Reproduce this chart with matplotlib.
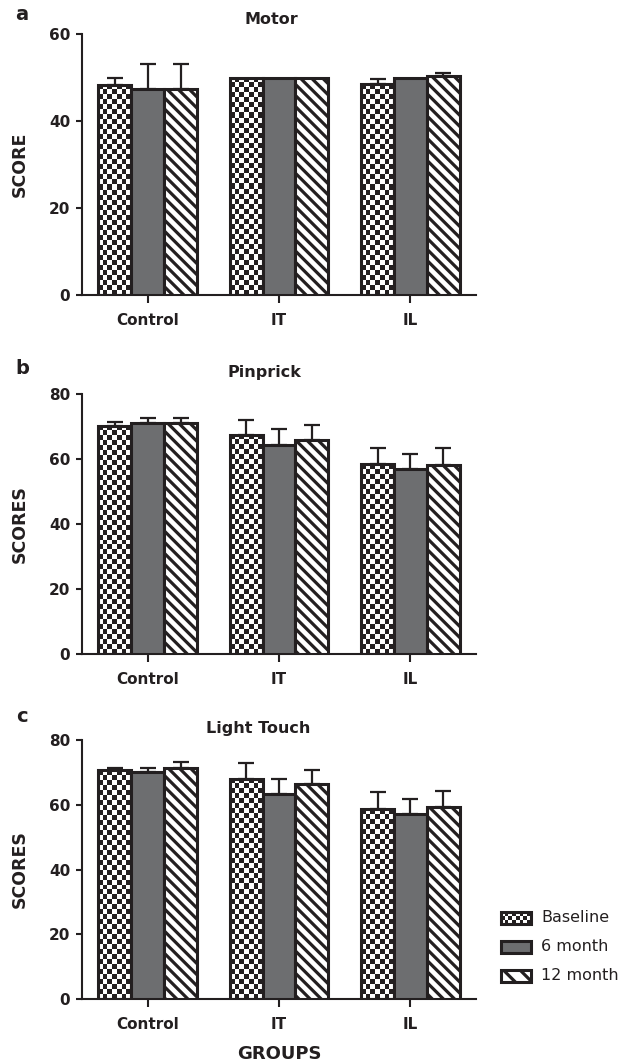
import numpy as np
import matplotlib
matplotlib.use('Agg')
import matplotlib.pyplot as plt
from matplotlib.colors import ListedColormap
from matplotlib.patches import Rectangle

groups = ['Control', 'IT', 'IL']
series = ['Baseline', '6 month', '12 month']

# Motor
motor_baseline = [48.3, 50.0, 48.5]
motor_baseline_err = [1.6, 0.0, 1.1]
motor_6m = [47.4, 50.0, 50.0]
motor_6m_err = [5.7, 0.0, 0.0]
motor_12m = [47.4, 50.0, 50.3]
motor_12m_err = [5.7, 0.0, 0.7]

# Pinprick
pin_baseline = [70.2, 67.4, 58.4]
pin_baseline_err = [1.1, 4.6, 5.0]
pin_6m = [71.0, 64.2, 56.8]
pin_6m_err = [1.7, 4.9, 4.7]
pin_12m = [71.0, 66.0, 58.1]
pin_12m_err = [1.7, 4.4, 5.2]

# Light touch
lt_baseline = [70.7, 68.1, 58.6]
lt_baseline_err = [0.8, 4.8, 5.3]
lt_6m = [70.1, 63.3, 57.2]
lt_6m_err = [1.4, 4.5, 4.7]
lt_12m = [71.5, 66.4, 59.2]
lt_12m_err = [1.6, 4.3, 5.0]

DARK = '#231f20'
GRAY = '#6d6e70'
HATCH = '\\\\\\'
W, H = 627, 1062

plt.rcParams['font.family'] = ['DejaVu Sans']
plt.rcParams['hatch.linewidth'] = 2.3
plt.rcParams['hatch.color'] = DARK

fig = plt.figure(figsize=(W / 100, H / 100), dpi=100)
checker_cmap = ListedColormap(['white', DARK])


def px_axes(x0, y0, x1, y1):
    return fig.add_axes([x0 / W, 1 - y1 / H, (x1 - x0) / W, (y1 - y0) / H])


def checker(ax, x0, x1, y0, y1, ppx, ppy, cell=5.0):
    nx = max(2, int(round((x1 - x0) * ppx / cell)))
    ny = max(2, int(round(abs(y1 - y0) * ppy / cell)))
    img = np.add.outer(np.arange(ny), np.arange(nx)) % 2
    ax.imshow(img, cmap=checker_cmap, extent=(x0, x1, y0, y1), origin='lower',
              interpolation='nearest', aspect='auto', zorder=2)


panels = [
    ('a', 'Motor', 'SCORE', 60, (34, 295), (271, 20), (22, 14),
     [(motor_baseline, motor_baseline_err), (motor_6m, motor_6m_err), (motor_12m, motor_12m_err)]),
    ('b', 'Pinprick', 'SCORES', 80, (394, 654), (264, 372), (22, 369),
     [(pin_baseline, pin_baseline_err), (pin_6m, pin_6m_err), (pin_12m, pin_12m_err)]),
    ('c', 'Light Touch', 'SCORES', 80, (740, 999), (258, 728), (22, 717),
     [(lt_baseline, lt_baseline_err), (lt_6m, lt_6m_err), (lt_12m, lt_12m_err)]),
]

x = np.arange(len(groups))
bw = 0.25
ax_l, ax_r = 82, 476

for letter, title, ylab, ymax, (top, bot), tpos, lpos, data in panels:
    ax = px_axes(ax_l, top, ax_r, bot)
    ppx = (ax_r - ax_l) / 3.0
    ppy = (bot - top) / ymax
    for i, (vals, errs) in enumerate(data):
        vals = np.array(vals)
        errs = np.array(errs)
        xs = x + (i - 1) * bw
        if i == 0:
            ax.bar(xs, vals, bw, facecolor='none', edgecolor=DARK, linewidth=2.2, zorder=3)
            for xi, v in zip(xs, vals):
                checker(ax, xi - bw / 2, xi + bw / 2, 0, v, ppx, ppy)
        elif i == 1:
            ax.bar(xs, vals, bw, facecolor=GRAY, edgecolor=DARK, linewidth=2.2, zorder=3)
        else:
            ax.bar(xs, vals, bw, facecolor='white', edgecolor=DARK, linewidth=2.2,
                   hatch=HATCH, zorder=3)
        m = errs > 0
        ax.errorbar(xs[m], vals[m], yerr=[np.zeros(m.sum()), errs[m]], fmt='none',
                    ecolor=DARK, elinewidth=1.6, capsize=6, capthick=1.6, zorder=1)
    ax.set_xlim(-0.5, 2.5)
    ax.set_ylim(0, ymax)
    ax.set_yticks(np.arange(0, ymax + 1, 20))
    ax.set_xticks(x)
    ax.set_xticklabels(groups)
    for s in ['top', 'right']:
        ax.spines[s].set_visible(False)
    for s in ['left', 'bottom']:
        ax.spines[s].set_linewidth(1.5)
        ax.spines[s].set_color(DARK)
    ax.tick_params(axis='y', length=4.5, width=1.5, pad=4, labelsize=11, colors=DARK)
    ax.tick_params(axis='x', length=6, width=1.5, pad=7, labelsize=11, colors=DARK)
    for lbl in ax.get_xticklabels() + ax.get_yticklabels():
        lbl.set_fontweight('bold')
    ax.set_ylabel(ylab, fontsize=12.5, fontweight='bold', color=DARK)
    ax.yaxis.set_label_coords((29 - ax_l) / (ax_r - ax_l), 0.5)
    fig.text(tpos[0] / W, 1 - tpos[1] / H, title, ha='center', va='center',
             fontsize=11.5, fontweight='bold', color=DARK)
    fig.text(lpos[0] / W, 1 - lpos[1] / H, letter, ha='center', va='center',
             fontsize=14, fontweight='bold', color=DARK)

ax.set_xlabel('GROUPS', fontsize=13, fontweight='bold', color=DARK)
ax.xaxis.set_label_coords(0.5, -46 / 259)

# legend drawn by hand
lg = px_axes(495, 900, 627, 990)
lg.axis('off')
rows = [918, 947, 976]
for name, yc, i in zip(series, rows, range(3)):
    y0 = yc - 6
    if i == 0:
        lg.imshow(np.add.outer(np.arange(3), np.arange(8)) % 2, cmap=checker_cmap,
                  extent=(501, 531, yc + 6, yc - 6), interpolation='nearest',
                  aspect='auto', zorder=2)
        lg.add_patch(Rectangle((501, y0), 30, 12, facecolor='none', edgecolor=DARK,
                               linewidth=2.2, zorder=3))
    elif i == 1:
        lg.add_patch(Rectangle((501, y0), 30, 12, facecolor=GRAY, edgecolor=DARK,
                               linewidth=2.2, zorder=3))
    else:
        lg.add_patch(Rectangle((501, y0), 30, 12, facecolor='white', edgecolor=DARK,
                               hatch='\\\\', linewidth=2.2, zorder=3))
    lg.text(541, yc, name, ha='left', va='center', fontsize=11.5, color=DARK)
lg.set_xlim(495, 627)
lg.set_ylim(990, 900)

fig.savefig('out.png', dpi=100)
